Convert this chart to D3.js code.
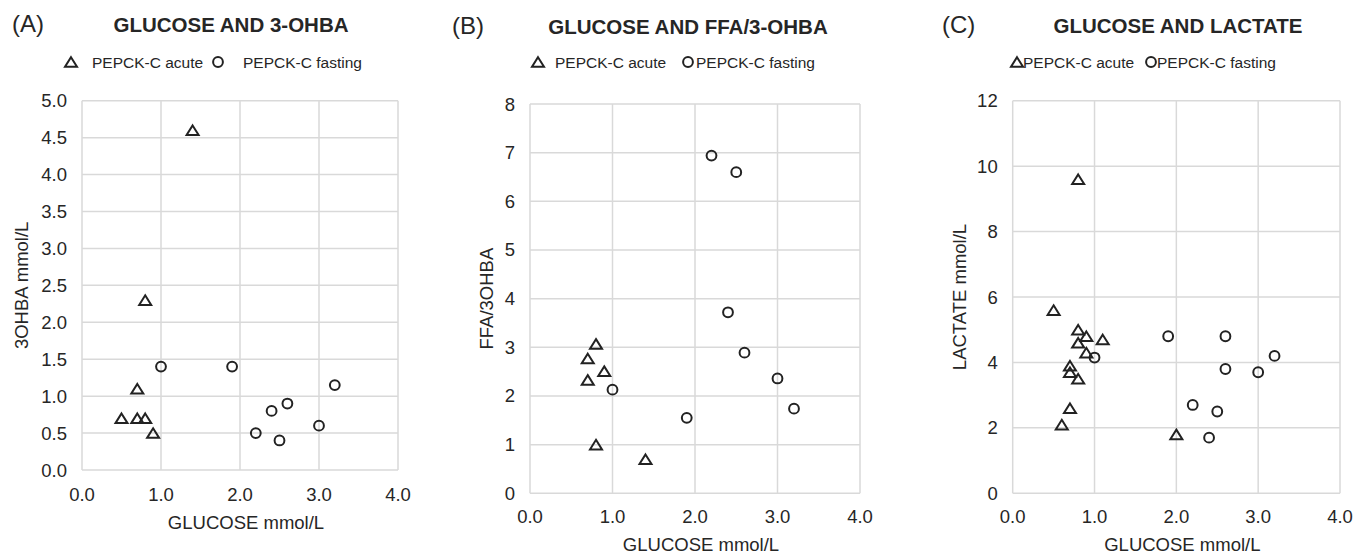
<!DOCTYPE html>
<html>
<head>
<meta charset="utf-8">
<script src="https://cdn.jsdelivr.net/npm/d3@7"></script>
<style>
  body { margin: 0; background: #fff; }
  text { font-family: "Liberation Sans", Arial, sans-serif; fill: #262626; }
</style>
</head>
<body>
<svg id="chart" width="1354" height="555"></svg>
<script>
// values: [glucose, y]
var acuteA = [[1.4, 4.6], [0.8, 2.3], [0.7, 1.1], [0.5, 0.7], [0.7, 0.7], [0.8, 0.7], [0.9, 0.5]];
var fastingA = [[1.0, 1.4], [1.9, 1.4], [2.2, 0.5], [2.4, 0.8], [2.5, 0.4], [2.6, 0.9], [3.0, 0.6], [3.2, 1.15]];

var acuteB = [[0.8, 3.07], [0.7, 2.77], [0.9, 2.51], [0.7, 2.33], [0.8, 1.0], [1.4, 0.7]];
var fastingB = [[2.2, 6.94], [2.5, 6.6], [2.4, 3.72], [2.6, 2.89], [3.0, 2.36], [3.2, 1.74], [1.0, 2.13], [1.9, 1.55]];

var acuteC = [[0.8, 9.6], [0.5, 5.6], [0.8, 5.0], [0.9, 4.8], [1.1, 4.7], [0.8, 4.6], [0.9, 4.3], [0.7, 3.9], [0.7, 3.7], [0.8, 3.5], [0.7, 2.6], [0.6, 2.1], [2.0, 1.8]];
var fastingC = [[1.0, 4.15], [1.9, 4.8], [2.6, 4.8], [3.2, 4.2], [2.6, 3.8], [3.0, 3.7], [2.2, 2.7], [2.5, 2.5], [2.4, 1.7]];

var xTicks = [0, 1, 2, 3, 4];
var yTicksA = [0, 0.5, 1, 1.5, 2, 2.5, 3, 3.5, 4, 4.5, 5];
var yTicksB = [0, 1, 2, 3, 4, 5, 6, 7, 8];
var yTicksC = [0, 2, 4, 6, 8, 10, 12];

var seriesNames = ["PEPCK-C acute", "PEPCK-C fasting"];

var svg = d3.select("#chart");
var ink = "#222";

function triangle(g, x, y) {
  // bbox-centred outline triangle
  g.append("path")
    .attr("d", "M" + x + "," + (y - 4.8) + "L" + (x + 6) + "," + (y + 4.8) + "L" + (x - 6) + "," + (y + 4.8) + "Z")
    .attr("fill", "none").attr("stroke", ink).attr("stroke-width", 2).attr("stroke-linejoin", "miter");
}
function circle(g, x, y) {
  g.append("circle").attr("cx", x).attr("cy", y).attr("r", 4.9)
    .attr("fill", "none").attr("stroke", ink).attr("stroke-width", 2);
}

function panel(p) {
  var g = svg.append("g");
  var x = d3.scaleLinear().domain([0, 4]).range([p.left, p.right]);
  var y = d3.scaleLinear().domain([0, d3.max(p.yTicks)]).range([p.bottom, p.top]);

  // grid
  g.selectAll(".vg").data(xTicks).enter().append("line")
    .attr("x1", function(d) { return x(d); }).attr("x2", function(d) { return x(d); })
    .attr("y1", p.top).attr("y2", p.bottom)
    .attr("stroke", "#d9d9d9").attr("stroke-width", 1.5);
  g.selectAll(".hg").data(p.yTicks).enter().append("line")
    .attr("x1", p.left).attr("x2", p.right)
    .attr("y1", function(d) { return y(d); }).attr("y2", function(d) { return y(d); })
    .attr("stroke", "#d9d9d9").attr("stroke-width", 1.5);

  // tick labels
  g.selectAll(".xt").data(xTicks).enter().append("text")
    .attr("x", function(d) { return x(d); }).attr("y", p.xTickY)
    .attr("text-anchor", "middle").style("font-size", "18.5px")
    .text(function(d) { return d3.format(".1f")(d); });
  g.selectAll(".yt").data(p.yTicks).enter().append("text")
    .attr("x", p.left - 15).attr("y", function(d) { return y(d) + 6.5; })
    .attr("text-anchor", "end").style("font-size", "18.5px")
    .text(function(d) { return d3.format(p.yFmt)(d); });

  // axis titles
  g.append("text").attr("x", (p.left + p.right) / 2 + 6).attr("y", p.xTitleY)
    .attr("text-anchor", "middle").style("font-size", "18.5px").text("GLUCOSE mmol/L");
  g.append("text").attr("transform", "translate(" + p.yTitleX + "," + ((p.top + p.bottom) / 2) + ") rotate(-90)")
    .attr("text-anchor", "middle").style("font-size", "18.5px").text(p.yTitle);

  // headings
  g.append("text").attr("x", p.labelX).attr("y", p.titleY).style("font-size", "24px").text(p.label);
  g.append("text").attr("x", p.titleX).attr("y", p.titleY).attr("text-anchor", "middle")
    .style("font-size", "20.5px").style("font-weight", "bold").text(p.title);

  // legend
  var ly = 62;
  triangle(g, p.leg[0], ly);
  g.append("text").attr("x", p.leg[1]).attr("y", ly + 5.5).style("font-size", "15.5px").text(seriesNames[0]);
  circle(g, p.leg[2], ly);
  g.append("text").attr("x", p.leg[3]).attr("y", ly + 5.5).style("font-size", "15.5px").text(seriesNames[1]);

  // points
  p.acute.forEach(function(d) { triangle(g, x(d[0]), y(d[1])); });
  p.fasting.forEach(function(d) { circle(g, x(d[0]), y(d[1])); });
}

panel({
  left: 82, right: 398, top: 100.7, bottom: 470, yTicks: yTicksA, yFmt: ".1f",
  xTickY: 501, xTitleY: 529, yTitleX: 28, yTitle: "3OHBA mmol/L",
  label: "(A)", labelX: 12, title: "GLUCOSE AND 3-OHBA", titleX: 231, titleY: 32,
  leg: [71, 92, 218, 243], acute: acuteA, fasting: fastingA
});
panel({
  left: 530, right: 860, top: 104, bottom: 493.3, yTicks: yTicksB, yFmt: "d",
  xTickY: 523, xTitleY: 551, yTitleX: 493, yTitle: "FFA/3OHBA",
  label: "(B)", labelX: 452, title: "GLUCOSE AND FFA/3-OHBA", titleX: 688, titleY: 34,
  leg: [538, 555, 688, 696], acute: acuteB, fasting: fastingB
});
panel({
  left: 1012.7, right: 1340, top: 100.7, bottom: 493.3, yTicks: yTicksC, yFmt: "d",
  xTickY: 523, xTitleY: 551, yTitleX: 966, yTitle: "LACTATE mmol/L",
  label: "(C)", labelX: 942, title: "GLUCOSE AND LACTATE", titleX: 1178, titleY: 33,
  leg: [1017, 1023, 1151, 1157], acute: acuteC, fasting: fastingC
});
</script>
</body>
</html>
